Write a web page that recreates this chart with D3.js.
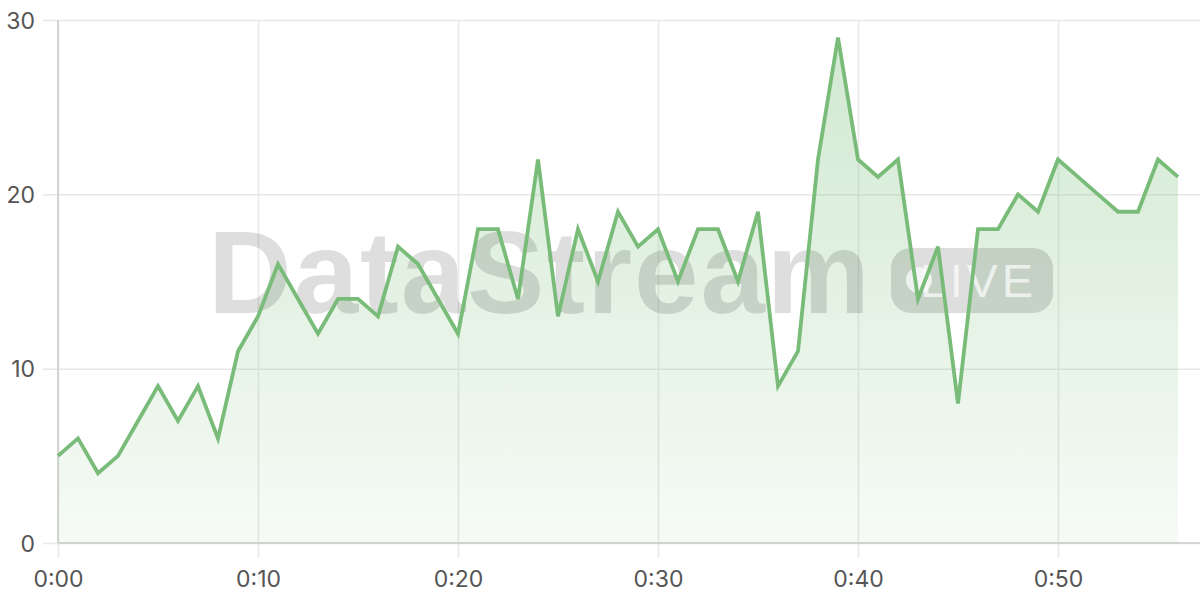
<!DOCTYPE html>
<html>
<head>
<meta charset="utf-8">
<script src="https://cdn.jsdelivr.net/npm/d3@7"></script>
<style>
  html, body { margin: 0; padding: 0; background: #fff; }
  svg { display: block; }
  .tick text { font-family: Inter, "Noto Sans", sans-serif; font-size: 23px; fill: #555; }
</style>
</head>
<body>
<svg id="chart" width="1200" height="600"></svg>
<script>
// minutes since start, one point per minute
var minutes = d3.range(0, 57)
var values = [5, 6, 4, 5, 7, 9, 7, 9, 6, 11,
  13, 16, 14, 12, 14, 14, 13, 17, 16, 14,
  12, 18, 18, 14, 22, 13, 18, 15, 19, 17,
  18, 15, 18, 18, 15, 19, 9, 11, 22, 29,
  22, 21, 22, 14, 17, 8, 18, 18, 20, 19,
  22, 21, 20, 19, 19, 22, 21]
var xTicks = [0, 10, 20, 30, 40, 50]
var xTickLabels = ["0:00", "0:10", "0:20", "0:30", "0:40", "0:50"]
var yTicks = [0, 10, 20, 30]

var W = 1200, H = 600,
    margin = {top: 20, right: 22, bottom: 57, left: 58}

var data = minutes.map(function(m, i){ return {m: m, v: values[i]} })

var svg = d3.select("#chart")

var x = d3.scaleLinear().domain([0, 56]).range([margin.left, W - margin.right])
var y = d3.scaleLinear().domain([0, 30]).range([H - margin.bottom, margin.top])

var defs = svg.append("defs")
var grad = defs.append("linearGradient")
  .attr("id", "areaGrad")
  .attr("gradientUnits", "userSpaceOnUse")
  .attr("x1", 0).attr("x2", 0)
  .attr("y1", y(30)).attr("y2", y(0))
grad.append("stop").attr("offset", "0%").attr("stop-color", "#7cbf7c").attr("stop-opacity", 0.36)
grad.append("stop").attr("offset", "100%").attr("stop-color", "#7cbf7c").attr("stop-opacity", 0.07)

// grid
svg.append("g")
  .attr("transform", "translate(" + (margin.left - 15) + ",0)")
  .call(d3.axisLeft(y).tickValues(yTicks).tickSize(-(W - margin.left + 15)).tickPadding(8).tickFormat(d3.format("d")))
  .call(function(g){
    g.select(".domain").remove()
    g.selectAll(".tick line").attr("stroke", "#e8e8e8").attr("stroke-width", 1.5)
    g.selectAll(".tick text").attr("x", -8).attr("dy", "0.36em")
  })

svg.append("g")
  .attr("transform", "translate(0," + (H - margin.bottom + 15) + ")")
  .call(d3.axisBottom(x).tickValues(xTicks).tickSize(-(H - margin.bottom + 15 - margin.top)).tickPadding(13)
    .tickFormat(function(d, i){ return xTickLabels[i] }))
  .call(function(g){
    g.select(".domain").remove()
    g.selectAll(".tick line").attr("stroke", "#e8e8e8").attr("stroke-width", 1.5)
  })

// axis lines
svg.append("line")
  .attr("x1", x(0)).attr("x2", x(0))
  .attr("y1", y(30)).attr("y2", y(0))
  .attr("stroke", "#d4d4d4").attr("stroke-width", 2)
svg.append("line")
  .attr("x1", x(0)).attr("x2", W)
  .attr("y1", y(0)).attr("y2", y(0))
  .attr("stroke", "#d4d4d4").attr("stroke-width", 2)

// area
var area = d3.area()
  .x(function(d){ return x(d.m) })
  .y0(y(0))
  .y1(function(d){ return y(d.v) })

svg.append("path")
  .datum(data)
  .attr("d", area)
  .attr("fill", "url(#areaGrad)")

// watermark
var wm = svg.append("g").attr("class", "watermark")
wm.append("text")
  .attr("x", 208).attr("y", 313)
  .attr("font-family", "'Liberation Sans', Arial, sans-serif")
  .attr("font-weight", "bold")
  .attr("font-size", 116)
  .attr("textLength", 662)
  .attr("fill", "#000").attr("fill-opacity", 0.13)
  .text("DataStream")
wm.append("rect")
  .attr("x", 891).attr("y", 248)
  .attr("width", 162).attr("height", 65)
  .attr("rx", 20)
  .attr("fill", "#000").attr("fill-opacity", 0.13)
wm.append("circle")
  .attr("cx", 919).attr("cy", 280).attr("r", 13)
  .attr("fill", "#fff").attr("fill-opacity", 0.7)
wm.append("text")
  .attr("x", 920).attr("y", 297)
  .attr("font-family", "'Liberation Sans', Arial, sans-serif")
  .attr("font-size", 47)
  .attr("textLength", 113)
  .attr("fill", "#fff").attr("fill-opacity", 0.7)
  .text("LIVE")

// line
var line = d3.line()
  .x(function(d){ return x(d.m) })
  .y(function(d){ return y(d.v) })

svg.append("path")
  .datum(data)
  .attr("d", line)
  .attr("fill", "none")
  .attr("stroke", "#79bc79")
  .attr("stroke-width", 3.8)
  .attr("stroke-linejoin", "miter")
</script>
</body>
</html>
